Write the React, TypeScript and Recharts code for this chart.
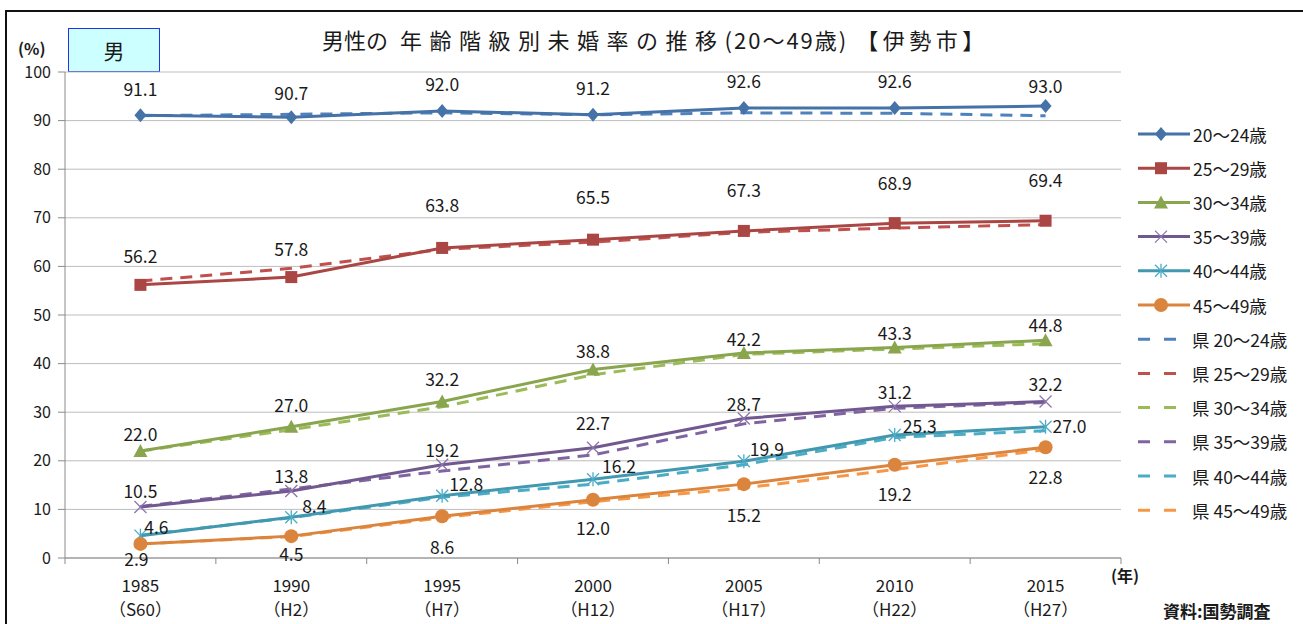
import React from 'react'
import { LineChart, Line, XAxis, YAxis, CartesianGrid, LabelList } from 'recharts'

const years = ['1985', '1990', '1995', '2000', '2005', '2010', '2015']
const eras = ['（S60）', '（H2）', '（H7）', '（H12）', '（H17）', '（H22）', '（H27）']
const yTicks = [0, 10, 20, 30, 40, 50, 60, 70, 80, 90, 100]

// 伊勢市
const city2024 = [91.1, 90.7, 92.0, 91.2, 92.6, 92.6, 93.0]
const city2529 = [56.2, 57.8, 63.8, 65.5, 67.3, 68.9, 69.4]
const city3034 = [22.0, 27.0, 32.2, 38.8, 42.2, 43.3, 44.8]
const city3539 = [10.5, 13.8, 19.2, 22.7, 28.7, 31.2, 32.2]
const city4044 = [4.6, 8.4, 12.8, 16.2, 19.9, 25.3, 27.0]
const city4549 = [2.9, 4.5, 8.6, 12.0, 15.2, 19.2, 22.8]

// 県
const pref2024 = [91.0, 91.3, 91.6, 91.2, 91.6, 91.5, 91.0]
const pref2529 = [57.0, 59.6, 63.5, 65.0, 67.0, 67.9, 68.6]
const pref3034 = [22.0, 26.4, 31.1, 37.7, 41.9, 43.0, 44.1]
const pref3539 = [10.6, 14.2, 17.9, 21.2, 27.6, 30.8, 32.0]
const pref4044 = [4.7, 8.3, 12.5, 15.2, 19.2, 24.8, 26.2]
const pref4549 = [2.9, 4.4, 8.3, 11.6, 14.4, 18.2, 22.3]

const data = years.map((year, i) => ({
  idx: i,
  year,
  c2024: city2024[i],
  c2529: city2529[i],
  c3034: city3034[i],
  c3539: city3539[i],
  c4044: city4044[i],
  c4549: city4549[i],
  p2024: pref2024[i],
  p2529: pref2529[i],
  p3034: pref3034[i],
  p3539: pref3539[i],
  p4044: pref4044[i],
  p4549: pref4549[i],
}))

type Shape = 'diamond' | 'square' | 'triangle' | 'cross' | 'star' | 'circle'

const citySeries: { key: string; name: string; color: string; shape: Shape; dx: number[]; dy: number[] }[] = [
  { key: 'c2024', name: '20～24歳', color: '#4572a7', shape: 'diamond', dx: [0, 0, 0, 0, 0, 0, 0], dy: [-27, -25, -27, -27, -27, -27, -21] },
  { key: 'c2529', name: '25～29歳', color: '#aa4643', shape: 'square', dx: [0, 0, 0, 0, 0, 0, 0], dy: [-29, -29, -43, -43, -41, -41, -41] },
  { key: 'c3034', name: '30～34歳', color: '#89a54e', shape: 'triangle', dx: [0, 0, 0, 0, 0, 0, 0], dy: [-18, -22, -23, -19, -14, -15, -16] },
  { key: 'c3539', name: '35～39歳', color: '#71588f', shape: 'cross', dx: [0, 0, 0, 0, 0, 0, 0], dy: [-16, -15, -15, -25, -15, -15, -18] },
  { key: 'c4044', name: '40～44歳', color: '#4198af', shape: 'star', dx: [16, 23, 24, 26, 23, 25, 24], dy: [-9, -12, -12, -14, -13, -10, -1] },
  { key: 'c4549', name: '45～49歳', color: '#db843d', shape: 'circle', dx: [-4, 0, 0, 0, 0, 0, 0], dy: [15, 17, 30, 28, 30, 29, 29] },
]

const prefSeries = [
  { key: 'p2024', name: '県 20～24歳', color: '#4f81bd' },
  { key: 'p2529', name: '県 25～29歳', color: '#c0504d' },
  { key: 'p3034', name: '県 30～34歳', color: '#9bbb59' },
  { key: 'p3539', name: '県 35～39歳', color: '#8064a2' },
  { key: 'p4044', name: '県 40～44歳', color: '#4bacc6' },
  { key: 'p4549', name: '県 45～49歳', color: '#f79646' },
]

const FONT = "'Noto Sans CJK JP', 'Noto Sans', sans-serif"

const Marker = ({ shape, cx, cy, color }: { shape: Shape; cx: number; cy: number; color: string }) => {
  if (shape === 'diamond')
    return <polygon points={`${cx},${cy - 7} ${cx + 6},${cy} ${cx},${cy + 7} ${cx - 6},${cy}`} fill={color} />
  if (shape === 'square') return <rect x={cx - 6} y={cy - 6} width={12} height={12} fill={color} />
  if (shape === 'triangle')
    return <polygon points={`${cx},${cy - 7} ${cx + 7},${cy + 6} ${cx - 7},${cy + 6}`} fill={color} />
  if (shape === 'cross')
    return (
      <g stroke="#8c74ad" strokeWidth={1.3}>
        <line x1={cx - 6} y1={cy - 6} x2={cx + 6} y2={cy + 6} />
        <line x1={cx - 6} y1={cy + 6} x2={cx + 6} y2={cy - 6} />
      </g>
    )
  if (shape === 'star')
    return (
      <g stroke="#4bacc6" strokeWidth={1.3}>
        <line x1={cx - 6} y1={cy - 6} x2={cx + 6} y2={cy + 6} />
        <line x1={cx - 6} y1={cy + 6} x2={cx + 6} y2={cy - 6} />
        <line x1={cx} y1={cy - 7} x2={cx} y2={cy + 7} />
      </g>
    )
  return <circle cx={cx} cy={cy} r={7} fill={color} />
}

const makeLabel = (dx: number[], dy: number[]) => (props: any) => {
  const { x, y, value, index } = props
  return (
    <text
      x={x + dx[index]}
      y={y + dy[index]}
      textAnchor="middle"
      dominantBaseline="central"
      fontSize={17.5}
      fill="#1a1a1a"
      fontFamily={FONT}
    >
      {Number(value).toFixed(1)}
    </text>
  )
}

const BottomTick = (props: any) => {
  const { x, y, payload } = props
  const i = payload.value
  return (
    <g fontFamily={FONT}>
      <text x={x} y={y + 17} textAnchor="middle" dominantBaseline="central" fontSize={17} fill="#1a1a1a">
        {years[i]}
      </text>
      <text x={x} y={y + 41} textAnchor="middle" dominantBaseline="central" fontSize={17} fill="#1a1a1a">
        {eras[i]}
      </text>
    </g>
  )
}

const NoTick = () => <g />

const Legend = () => (
  <svg width={170} height={420} style={{ position: 'absolute', left: 1133, top: 115 }}>
    {citySeries.map((s, i) => {
      const cy = 19 + i * 34.2
      return (
        <g key={s.key}>
          <line x1={5} x2={57} y1={cy} y2={cy} stroke={s.color} strokeWidth={3} />
          <Marker shape={s.shape} cx={28} cy={cy} color={s.color} />
          <text x={60} y={cy} dominantBaseline="central" fontSize={17.5} fill="#1a1a1a" fontFamily={FONT}>
            {s.name}
          </text>
        </g>
      )
    })}
    {prefSeries.map((s, i) => {
      const cy = 19 + (i + 6) * 34.2
      return (
        <g key={s.key}>
          <line x1={5} x2={45} y1={cy} y2={cy} stroke={s.color} strokeWidth={3} strokeDasharray="12 14" />
          <text x={59} y={cy} dominantBaseline="central" fontSize={17.5} fill="#1a1a1a" fontFamily={FONT}>
            {s.name}
          </text>
        </g>
      )
    })}
  </svg>
)

export default function App() {
  return (
    <div
      style={{
        position: 'fixed',
        left: 0,
        top: 0,
        width: 1303,
        height: 624,
        overflow: 'hidden',
        background: '#fff',
        fontFamily: FONT,
        color: '#1a1a1a',
      }}
    >
      <div
        style={{
          position: 'absolute',
          left: 5,
          top: 10,
          width: 1340,
          height: 660,
          border: '2px solid #111',
        }}
      />
      <div
        style={{
          position: 'absolute',
          left: 322,
          top: 23,
          fontSize: 22,
          whiteSpace: 'nowrap',
        }}
      >
        <span>男性の</span>
        <span style={{ marginLeft: 12, letterSpacing: 7.5 }}>年齢階級別未婚率の推移</span>
        <span style={{ letterSpacing: 2 }}>(20～49歳)</span>
        <span style={{ marginLeft: 8, letterSpacing: 4.5 }}>【伊勢市】</span>
      </div>
      <div
        style={{
          position: 'absolute',
          left: 68,
          top: 28,
          width: 90,
          height: 42,
          background: '#ccffff',
          border: '1px solid #2233ee',
          fontSize: 21,
          textAlign: 'center',
          lineHeight: '42px',
        }}
      >
        男
      </div>
      <div style={{ position: 'absolute', left: 18, top: 36, fontSize: 16, fontWeight: 'bold' }}>(%)</div>
      <div style={{ position: 'absolute', left: 1111, top: 563, fontSize: 16, fontWeight: 'bold' }}>(年)</div>
      <div style={{ position: 'absolute', left: 1163, top: 598, fontSize: 17, fontWeight: 'bold' }}>
        資料:国勢調査
      </div>

      <div style={{ position: 'absolute', left: 0, top: 0 }}>
        <LineChart
          width={1303}
          height={624}
          data={data}
          margin={{ top: 72, right: 182, left: 25, bottom: 15 }}
          style={{ fontFamily: FONT }}
        >
          <CartesianGrid vertical={false} stroke="#bdbdbd" xAxisId="grid" />
          <XAxis
            xAxisId="grid"
            dataKey="idx"
            type="number"
            domain={[-0.5, 6.5]}
            ticks={[-0.5, 0.5, 1.5, 2.5, 3.5, 4.5, 5.5, 6.5]}
            tick={NoTick}
            tickSize={6}
            height={1}
            stroke="#8a8a8a"
            allowDataOverflow
          />
          <XAxis
            xAxisId="lab"
            dataKey="idx"
            type="number"
            domain={[-0.5, 6.5]}
            ticks={[0, 1, 2, 3, 4, 5, 6]}
            tick={BottomTick}
            axisLine={false}
            tickLine={false}
            height={50}
            allowDataOverflow
          />
          <YAxis
            domain={[0, 100]}
            ticks={yTicks}
            width={40}
            tickSize={7}
            tickMargin={7}
            stroke="#8a8a8a"
            tick={{ fill: '#1a1a1a', fontSize: 16 }}
            interval={0}
          />
          {prefSeries.map((s) => (
            <Line
              key={s.key}
              xAxisId="grid"
              dataKey={s.key}
              name={s.name}
              stroke={s.color}
              strokeWidth={3}
              strokeDasharray="12 8"
              dot={false}
              activeDot={false}
              isAnimationActive={false}
            />
          ))}
          {citySeries.map((s) => (
            <Line
              key={s.key}
              xAxisId="grid"
              dataKey={s.key}
              name={s.name}
              stroke={s.color}
              strokeWidth={3}
              dot={(p: any) => <Marker key={`${s.key}-${p.index}`} shape={s.shape} cx={p.cx} cy={p.cy} color={s.color} />}
              activeDot={false}
              isAnimationActive={false}
            >
              <LabelList dataKey={s.key} content={makeLabel(s.dx, s.dy)} />
            </Line>
          ))}
        </LineChart>
      </div>
      <Legend />
    </div>
  )
}
